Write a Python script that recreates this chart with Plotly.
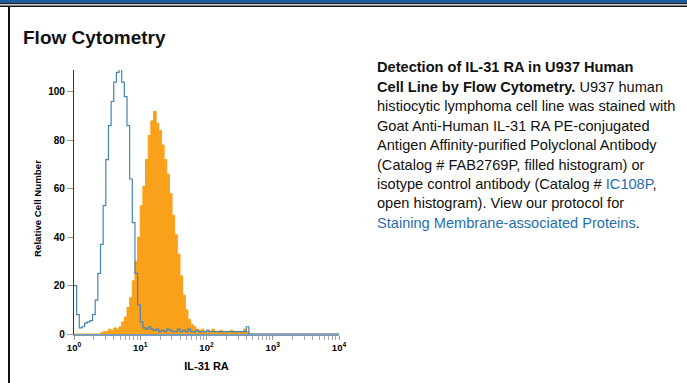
import plotly.graph_objects as go

# intensity channels (shared bin positions, log spaced as on the cytometer)
intensity = [1.000, 1.096, 1.202, 1.318, 1.445, 1.585, 1.738, 1.905, 2.089, 2.291,
             2.512, 2.754, 3.020, 3.311, 3.631, 3.981, 4.365, 4.786, 5.248, 5.754,
             6.310, 6.918, 7.586, 8.318, 9.120, 10.00, 10.96, 12.02, 13.18, 14.45,
             15.85, 17.38, 19.05, 20.89, 22.91, 25.12, 27.54, 30.20, 33.11, 36.31,
             39.81, 43.65, 47.86, 52.48, 57.54, 63.10, 69.18, 75.86, 83.18, 91.20,
             100.0, 109.6, 120.2, 131.8, 144.5, 158.5, 173.8, 190.5, 208.9, 229.1,
             251.2, 275.4, 302.0, 331.1, 363.1, 398.1, 436.5, 478.6, 10000]

# isotype control (open histogram)
isotype = [20, 8, 2.5, 3, 4.5, 5, 5.5, 8, 14, 25,
           37, 53, 72, 86, 96, 104, 108, 110, 104, 98,
           86, 64, 46, 25, 12, 5, 2.5, 2, 3, 2,
           1.5, 2, 1, 1.5, 1, 2, 1.5, 1, 1, 2,
           1, 1.5, 1, 2, 1, 1, 1.5, 1, 1, 1,
           1.5, 1, 1, 1, 1, 1, 1, 1, 1, 1,
           1, 1, 1, 1, 1, 3, 0, 0, 0]

# IL-31 RA antibody (filled histogram)
il31ra = [0, 0, 0, 0, 0, 0, 0, 0, 0, 0,
          0.5, 1, 1, 2, 1.5, 2.5, 2, 3, 5, 7,
          11, 15, 22, 30, 40, 53, 61, 72, 82, 88,
          92, 87, 84, 78, 72, 66, 58, 49, 41, 33,
          24, 16, 10, 6, 4, 3, 2, 1.5, 2, 1,
          1.5, 1, 2, 1, 1, 1.5, 1, 1, 1, 1.5,
          1, 1, 1, 1, 2, 1, 0, 0, 0]

y_ticks = [0, 20, 40, 60, 80, 100]
y_tick_text = ["<b>0</b>", "<b>20</b>", "<b>40</b>", "<b>60</b>", "<b>80</b>", "<b>100</b>"]
x_ticks = [1, 10, 100, 1000, 10000]
x_tick_text = ["<b>10<sup>0</sup></b>", "<b>10<sup>1</sup></b>", "<b>10<sup>2</sup></b>",
               "<b>10<sup>3</sup></b>", "<b>10<sup>4</sup></b>"]
minor_ticks = [m * d for d in (1, 10, 100, 1000) for m in range(2, 10)]

caption = [
    "<b>Detection of IL-31 RA in U937 Human</b>",
    "<b>Cell Line by Flow Cytometry.</b> U937 human",
    "histiocytic lymphoma cell line was stained with",
    "Goat Anti-Human IL-31 RA PE-conjugated",
    "Antigen Affinity-purified Polyclonal Antibody",
    "(Catalog # FAB2769P, filled histogram) or",
    "isotype control antibody (Catalog # <span style='color:#1f6fb2'>IC108P</span>,",
    "open histogram). View our protocol for",
    "<span style='color:#1f6fb2'>Staining Membrane-associated Proteins</span>.",
]

W, H = 687, 383
L, R, T, B = 74, 339, 70, 334


def px(x):
    return (x - L) / (R - L)


def py(y):
    return (B - y) / (B - T)


narrow = "Liberation Sans Narrow, Arial Narrow, Liberation Sans, Arial"
sans = "Liberation Sans, Arial, Helvetica, sans-serif"

fig = go.Figure()
fig.add_trace(go.Scatter(x=intensity, y=il31ra, mode="lines", line=dict(color="#f9a11b", width=1, shape="hv"),
                         fill="tozeroy", fillcolor="#f9a11b", showlegend=False, hoverinfo="skip"))
fig.add_trace(go.Scatter(x=intensity, y=isotype, mode="lines", line=dict(color="#4584b6", width=1.2, shape="hv"),
                         showlegend=False, hoverinfo="skip"))

fig.update_layout(
    width=W, height=H,
    margin=dict(l=L, r=W - R, t=T, b=H - B),
    paper_bgcolor="white", plot_bgcolor="white",
    xaxis=dict(type="log", range=[0, 4], tickvals=x_ticks, ticktext=x_tick_text,
               ticks="outside", ticklen=4, tickcolor="#999", showgrid=False, zeroline=False,
               showline=True, linecolor="#7a9ab5", linewidth=1.5,
               tickfont=dict(family=narrow, size=9.5, color="black"),
               minor=dict(tickvals=minor_ticks, ticks="outside", ticklen=4, tickcolor="#aaa"),
               title=dict(text="<b>IL-31 RA</b>", font=dict(family=narrow, size=11, color="black"), standoff=10)),
    yaxis=dict(range=[0, 109], tickvals=y_ticks, ticktext=y_tick_text, ticks="outside", ticklen=6,
               tickcolor="#999", showgrid=False, zeroline=False, showline=True, linecolor="#333", linewidth=1.2,
               tickfont=dict(family=narrow, size=10, color="black")),
)

fig.add_annotation(text="<b>Relative Cell Number</b>", xref="paper", yref="paper", x=px(37), y=py(209),
                   xanchor="center", yanchor="middle", textangle=-90, showarrow=False,
                   font=dict(family=narrow, size=9.7, color="black"))

fig.add_annotation(text="<b>Flow Cytometry</b>", xref="paper", yref="paper", x=px(21), y=py(37),
                   xanchor="left", yanchor="middle", showarrow=False,
                   font=dict(family=sans, size=19, color="#111"))

for i, line in enumerate(caption):
    fig.add_annotation(text=line, xref="paper", yref="paper", x=px(375), y=py(67 + i * 19.5),
                       xanchor="left", yanchor="middle", showarrow=False,
                       font=dict(family=sans, size=14.6, color="#111"))

# page frame: blue/black bands at the top, black rule on the left
fig.add_shape(type="rect", xref="paper", yref="paper", x0=px(0), x1=px(W), y0=py(3), y1=py(0),
              fillcolor="#1c5c9c", line_width=0, layer="above")
fig.add_shape(type="rect", xref="paper", yref="paper", x0=px(0), x1=px(W), y0=py(4.2), y1=py(3),
              fillcolor="#222", line_width=0, layer="above")
fig.add_shape(type="rect", xref="paper", yref="paper", x0=px(0), x1=px(W), y0=py(7), y1=py(5.5),
              fillcolor="#111", line_width=0, layer="above")
fig.add_shape(type="rect", xref="paper", yref="paper", x0=px(8), x1=px(10), y0=py(H), y1=py(7),
              fillcolor="#111", line_width=0, layer="above")

fig.write_html("out.html", config={"displayModeBar": False},
               post_script="document.body.style.margin='0';document.body.style.overflow='hidden';"
                           "document.documentElement.style.overflow='hidden';")
